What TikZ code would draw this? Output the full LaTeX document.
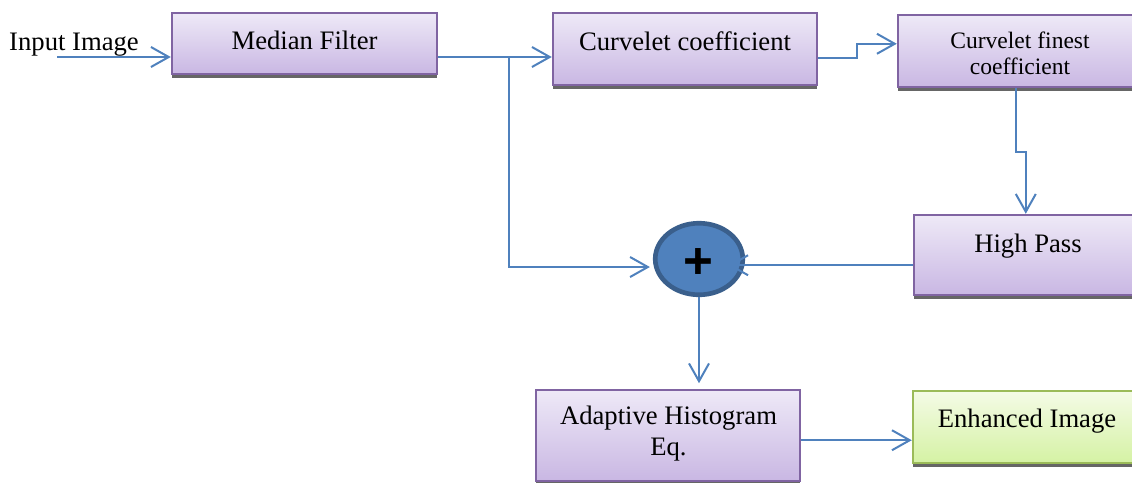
\documentclass[tikz,border=0pt]{standalone}
\usepackage{fontspec}
\setmainfont{Liberation Serif}
\newfontfamily\plusfont{Liberation Sans}
\usetikzlibrary{arrows.meta,calc,fit,shapes.geometric,shadows}

\definecolor{boxline}{HTML}{8064A2}
\definecolor{boxtop}{HTML}{EEE9F7}
\definecolor{boxbot}{HTML}{C9B7E3}
\definecolor{greenline}{HTML}{9BBB59}
\definecolor{greentop}{HTML}{F4FBE6}
\definecolor{greenbot}{HTML}{D5F2A4}
\definecolor{flowblue}{HTML}{4F81BD}
\definecolor{sumline}{HTML}{3A5F8C}

\tikzset{
  procbox/.style={draw=boxline,line width=1.1pt,top color=boxtop,bottom color=boxbot,
    inner sep=0pt,general shadow={fill=black!60,shadow yshift=-2pt}},
  outbox/.style={procbox,draw=greenline,top color=greentop,bottom color=greenbot},
  boxtext/.style={font=\fontsize{12}{14}\selectfont,inner sep=0pt,align=center},
  smalltext/.style={font=\fontsize{10.6}{11.7}\selectfont,inner sep=0pt,align=center},
  sumnode/.style={ellipse,draw=sumline,fill=flowblue,line width=2.1pt,inner sep=0pt,
    minimum width=39.4pt,minimum height=32.2pt},
  link/.style={draw=flowblue,line width=0.9pt},
  flow/.style={link,-{Straight Barb[length=8pt,width=9pt]}},
}

\begin{document}
\begin{tikzpicture}[x=0.45pt,y=-0.45pt,line join=miter]
  \useasboundingbox (0,0) rectangle (1132,482);
  \clip (0,0) rectangle (1132,482);

  % blocks
  \node[procbox,fit={(172,13) (437,74)}] (median) {};
  \node[procbox,fit={(553,13) (817,85)}] (curvco) {};
  \node[procbox,fit={(898,15) (1142,87)}] (finest) {};
  \node[procbox,fit={(914,215) (1142,295)}] (highpass) {};
  \node[procbox,fit={(536,390) (800,481)}] (adaptive) {};
  \node[outbox,fit={(913,391) (1141,463)}] (enhanced) {};
  \node[sumnode] (sum) at (699,259) {};

  % texts
  \node[boxtext,anchor=base] (inputT) at (74,50) {Input Image};
  \node[boxtext,anchor=base] (medianT) at (304.5,49) {Median Filter};
  \node[boxtext,anchor=base] (curvcoT) at (685,50) {Curvelet coefficient};
  \node[smalltext] (finestT) at (1020,53) {Curvelet finest\\coefficient};
  \node[boxtext,anchor=base] (highpassT) at (1028,252) {High Pass};
  \node[boxtext] (adaptiveT) at (668.5,434) {Adaptive Histogram\\Eq.};
  \node[boxtext,anchor=base] (enhancedT) at (1027,427) {Enhanced Image};
  \node[font=\plusfont\bfseries\fontsize{23}{23}\selectfont,inner sep=0pt] (plus) at (698,264) {+};

  % connectors
  \coordinate (inStart) at (57,57);
  \draw[flow] (inStart) -- (inStart -| median.west);
  \coordinate (split) at (509,57);
  \draw[link] (split -| median.east) -- (split);
  \draw[flow] (split) -- (split -| curvco.west);
  \draw[flow] (split) |- ($(sum.west)+(-3,8)$);
  \draw[flow] ($(curvco.south east)+(0,-28)$) -| ($(finest.north west)+(-40,30)$)
    -- ($(finest.north west)+(0,30)$);
  \draw[flow] ($(finest.south west)+(119,0)$) |- ($(finest.south west)+(129,64)$)
    -- ($(highpass.north west)+(113,0)$);
  \coordinate (hpOut) at ($(highpass.south west)+(0,-31)$);
  \draw[flow,shorten >=-7.6pt] (hpOut) -- (hpOut -| sum.east);
  \draw[flow,shorten >=2.5pt] (sum.south) -- (sum.south |- adaptive.north);
  \coordinate (adOut) at ($(adaptive.south east)+(0,-42)$);
  \draw[flow] (adOut) -- (adOut -| enhanced.west);
\end{tikzpicture}
\end{document}
